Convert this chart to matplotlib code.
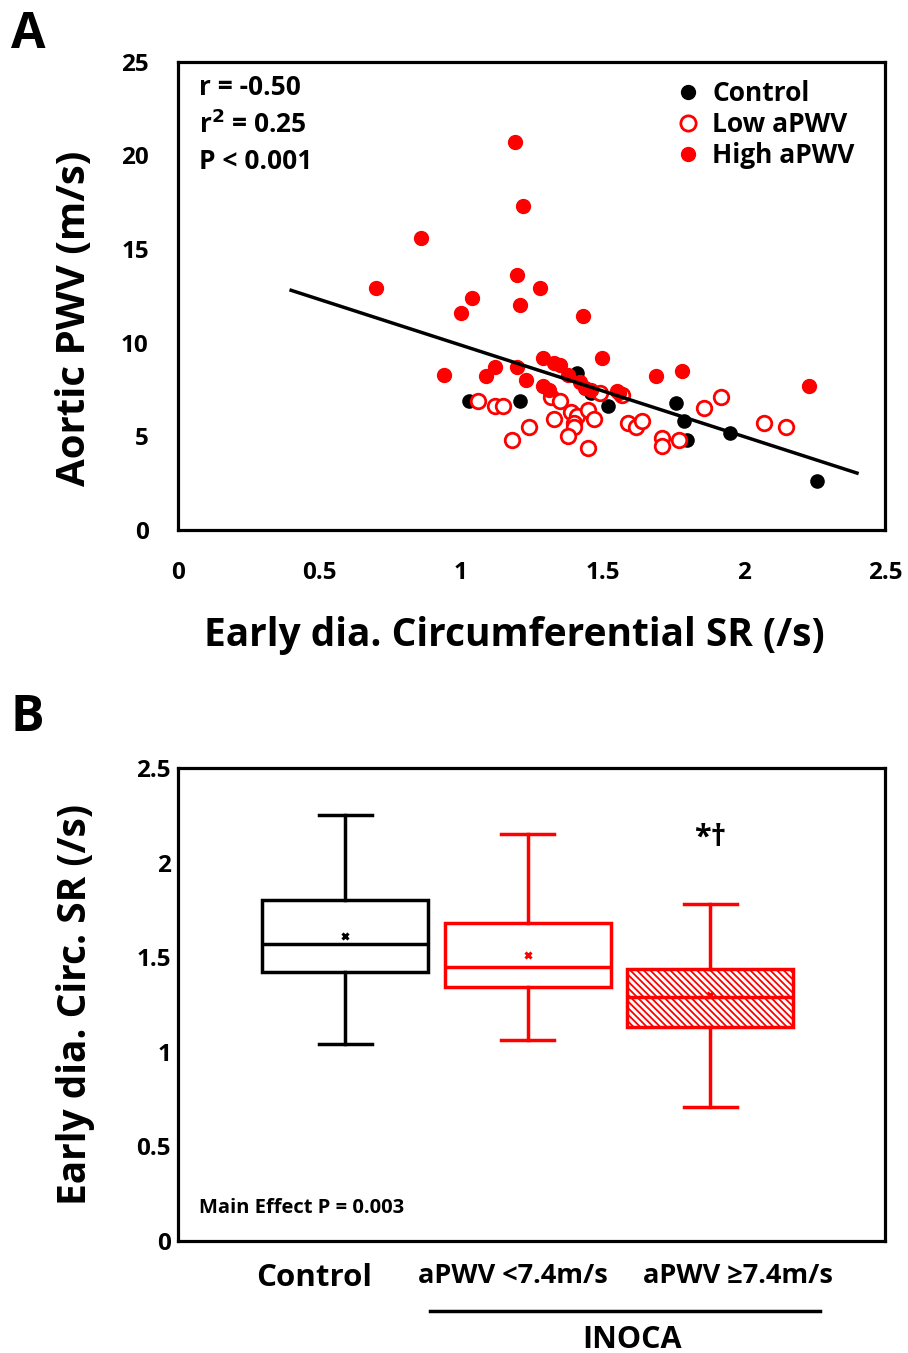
import numpy as np
import matplotlib.pyplot as plt
from matplotlib.lines import Line2D

plt.rcParams['font.family'] = ['Open Sans', 'DejaVu Sans']
plt.rcParams['font.weight'] = 'bold'
plt.rcParams['hatch.linewidth'] = 1.3

# ---- Panel A data ----
ctrl_x = [1.03, 1.21, 1.41, 1.46, 1.52, 1.62, 1.76, 1.79, 1.80, 1.95, 2.26]
ctrl_y = [6.9, 6.9, 8.4, 7.3, 6.6, 5.6, 6.8, 5.8, 4.8, 5.2, 2.6]

low_x = [1.06, 1.12, 1.15, 1.18, 1.24, 1.33, 1.32, 1.35, 1.39, 1.41, 1.40, 1.40,
         1.38, 1.45, 1.47, 1.45, 1.49, 1.57, 1.59, 1.62, 1.64, 1.71, 1.71, 1.77,
         1.86, 1.92, 2.07, 2.15]
low_y = [6.9, 6.6, 6.6, 4.8, 5.5, 5.9, 7.1, 6.9, 6.3, 6.1, 5.7, 5.5,
         5.0, 6.4, 5.9, 4.4, 7.3, 7.2, 5.7, 5.5, 5.8, 4.9, 4.5, 4.8,
         6.5, 7.1, 5.7, 5.5]

high_x = [1.19, 1.22, 0.86, 0.70, 1.20, 1.28, 1.04, 1.21, 1.00, 1.43, 0.94, 1.12,
          1.09, 1.20, 1.23, 1.29, 1.33, 1.35, 1.38, 1.29, 1.31, 1.42, 1.44, 1.46,
          1.50, 1.55, 1.56, 1.69, 1.78, 2.23]
high_y = [20.7, 17.3, 15.6, 12.9, 13.6, 12.9, 12.4, 12.0, 11.6, 11.4, 8.3, 8.7,
          8.2, 8.7, 8.0, 9.2, 8.9, 8.8, 8.3, 7.7, 7.5, 7.9, 7.6, 7.5,
          9.2, 7.4, 7.3, 8.2, 8.5, 7.7]

fit_x = [0.40, 2.40]
fit_slope = -4.88
fit_int = 14.75

# ---- Panel B data ----
groups = ['Control', 'aPWV <7.4m/s', 'aPWV \u22657.4m/s']
whislo = [1.04, 1.06, 0.71]
q1 = [1.42, 1.34, 1.13]
med = [1.57, 1.45, 1.29]
q3 = [1.80, 1.68, 1.44]
whishi = [2.25, 2.15, 1.78]
means = [1.61, 1.51, 1.30]
box_colors = ['black', 'red', 'red']
hatches = [None, None, '\\\\\\\\\\']

fig = plt.figure(figsize=(9.08, 13.53), dpi=100)

# ================= A =================
ax = fig.add_axes([0.196, 0.6083, 0.779, 0.346])
ax.scatter(ctrl_x, ctrl_y, s=90, color='black', zorder=3)
ax.scatter(low_x, low_y, s=110, facecolor='white', edgecolor='red', linewidths=2, zorder=3)
ax.scatter(high_x, high_y, s=100, color='red', zorder=4)
fx = np.array(fit_x)
ax.plot(fx, fit_int + fit_slope * fx, color='black', lw=2.5, zorder=5)

ax.set_xlim(0, 2.5)
ax.set_ylim(0, 25)
ax.set_xticks([0, 0.5, 1, 1.5, 2, 2.5])
ax.set_xticklabels(['0', '0.5', '1', '1.5', '2', '2.5'])
ax.set_yticks([0, 5, 10, 15, 20, 25])
ax.tick_params(axis='x', length=0, labelsize=17.5, pad=22)
ax.tick_params(axis='y', length=0, labelsize=17.5, pad=21)
for s in ax.spines.values():
    s.set_linewidth(2.3)
ax.set_ylabel('Aortic PWV (m/s)', fontsize=29, fontweight='bold')
ax.yaxis.set_label_coords(-0.119, 0.453)
ax.set_xlabel('Early dia. Circumferential SR (/s)', fontsize=28, fontweight='bold')
ax.xaxis.set_label_coords(0.475, -0.184)

ax.text(0.03, 0.975, 'r = -0.50', transform=ax.transAxes, fontsize=19, va='top')
ax.text(0.03, 0.895, 'r$^{\\mathbf{2}}$ = 0.25', transform=ax.transAxes, fontsize=19, va='top')
ax.text(0.03, 0.815, 'P < 0.001', transform=ax.transAxes, fontsize=19, va='top')

handles = [
    Line2D([], [], ls='', marker='o', ms=10, color='black'),
    Line2D([], [], ls='', marker='o', ms=11, mfc='white', mec='red', mew=2),
    Line2D([], [], ls='', marker='o', ms=10, color='red'),
]
ax.legend(handles, ['Control', 'Low aPWV', 'High aPWV'], loc='upper right',
          bbox_to_anchor=(0.99, 1.012), frameon=False, fontsize=19,
          handletextpad=0.4, labelspacing=0.15, handlelength=1.0)

fig.text(0.012, 0.974, 'A', fontsize=36, fontweight='bold', va='center')

# ================= B =================
bx = fig.add_axes([0.196, 0.0828, 0.779, 0.3496])
stats = []
for i in range(3):
    stats.append(dict(label=groups[i], whislo=whislo[i], q1=q1[i], med=med[i],
                      q3=q3[i], whishi=whishi[i], mean=means[i], fliers=[]))
pos = [1, 2, 3]
for i in range(3):
    c = box_colors[i]
    b = bx.bxp([stats[i]], positions=[pos[i]], widths=0.91, patch_artist=True,
               showmeans=True, showfliers=False,
               boxprops=dict(facecolor='white', edgecolor=c, lw=2.5, hatch=hatches[i]),
               medianprops=dict(color=c, lw=2.5),
               whiskerprops=dict(color=c, lw=2.5),
               capprops=dict(color=c, lw=2.5),
               meanprops=dict(marker='x', markeredgecolor=c, markersize=5, mew=2.2))
    for cap in b['caps']:
        cap.set_xdata([pos[i] - 0.145, pos[i] + 0.145])

bx.set_xlim(0.082, 3.96)
bx.set_ylim(0, 2.5)
bx.set_xticks([])
bx.set_yticks([0, 0.5, 1, 1.5, 2, 2.5])
bx.set_yticklabels(['0', '0.5', '1', '1.5', '2', '2.5'])
bx.tick_params(length=0, labelsize=17.5, pad=5)
for s in bx.spines.values():
    s.set_linewidth(2.3)
bx.set_ylabel('Early dia. Circ. SR (/s)', fontsize=28, fontweight='bold')
bx.yaxis.set_label_coords(-0.117, 0.5)

bx.text(3, 2.13, '*\u2020', fontsize=22, ha='center', va='center')
bx.text(0.03, 0.07, 'Main Effect P = 0.003', transform=bx.transAxes, fontsize=14.5, va='center')

fig.text(314 / 908, 1 - 1278 / 1353, groups[0], fontsize=22.5, ha='center', va='center')
fig.text(513 / 908, 1 - 1276 / 1353, groups[1], fontsize=19.5, ha='center', va='center')
fig.text(738 / 908, 1 - 1276 / 1353, groups[2], fontsize=19.5, ha='center', va='center')
fig.add_artist(Line2D([430 / 908, 820 / 908], [1 - 1311 / 1353, 1 - 1311 / 1353],
                      color='black', lw=2.5))
fig.text(632 / 908, 1 - 1340 / 1353, 'INOCA', fontsize=22, ha='center', va='center')

fig.text(0.012, 1 - 718 / 1353, 'B', fontsize=36, fontweight='bold', va='center')

fig.savefig('out.png', dpi=100)
